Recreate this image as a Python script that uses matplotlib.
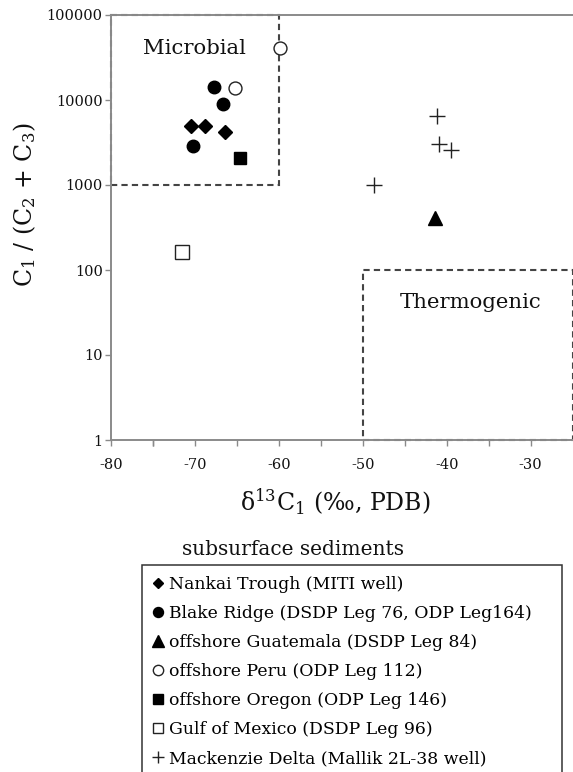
import matplotlib
matplotlib.use('Agg')
import matplotlib.pyplot as plt
from matplotlib.ticker import FixedLocator, FuncFormatter, NullLocator
from matplotlib.patches import Rectangle

plt.rcParams['font.family'] = ['DejaVu Serif']
plt.rcParams['mathtext.fontset'] = 'dejavuserif'
plt.rcParams['mathtext.default'] = 'regular'
plt.rcParams['axes.unicode_minus'] = False

# values: delta13C1 (permil) and C1/(C2+C3)
nankai_x = [-70.5, -68.8, -66.4]
nankai_y = [5000, 5000, 4150]
blake_x = [-67.7, -66.7, -70.2]
blake_y = [14200, 9000, 2900]
guatemala_x = [-41.4]
guatemala_y = [410]
peru_x = [-59.8, -65.2]
peru_y = [41000, 13800]
oregon_x = [-64.6]
oregon_y = [2100]
gulf_x = [-71.5]
gulf_y = [165]
mackenzie_x = [-41.2, -40.9, -39.5, -48.6]
mackenzie_y = [6400, 3000, 2600, 1000]

x_ticks = [-80, -70, -60, -50, -40, -30]
y_ticks = [1, 10, 100, 1000, 10000, 100000]

# genetic fields (x0, x1, y0, y1)
microbial_box = (-80, -60, 1000, 100000)
thermo_box = (-50, -25, 1, 100)

W, H = 573, 772
fig = plt.figure(figsize=(W / 100, H / 100), dpi=100)
ax = fig.add_axes([111 / W, 1 - 440 / H, (572.5 - 111) / W, (440 - 15) / H])

ax.set_yscale('log')
ax.set_xlim(-80, -25)
ax.set_ylim(1, 100000)

spine_col = '#8a8a8a'
for side in ['left', 'bottom', 'top']:
    ax.spines[side].set_color(spine_col)
    ax.spines[side].set_linewidth(1.4)
ax.spines['right'].set_visible(False)

ax.xaxis.set_major_locator(FixedLocator(x_ticks))
ax.xaxis.set_minor_locator(FixedLocator([v + 5 for v in x_ticks[:-1]] + [-75]))
ax.xaxis.set_major_formatter(FuncFormatter(lambda v, p: '%d' % v))
ax.yaxis.set_major_locator(FixedLocator(y_ticks))
ax.yaxis.set_minor_locator(NullLocator())
ax.yaxis.set_major_formatter(FuncFormatter(lambda v, p: '%d' % round(v)))
ax.tick_params(axis='both', which='both', direction='out', length=4, width=1,
               color=spine_col, labelsize=10.5, labelcolor='#111111')
ax.tick_params(axis='x', which='major', pad=9)
ax.tick_params(axis='y', pad=2)

dash = (0, (3, 2))
for bx in [microbial_box, thermo_box]:
    ax.add_patch(Rectangle((bx[0], bx[2]), bx[1] - bx[0], bx[3] - bx[2], fill=False,
                           edgecolor='#444444', linewidth=1.5, linestyle=dash, clip_on=False))

ax.text(-70.0, 40000, 'Microbial', ha='center', va='center', fontsize=15.3, color='#111111')
ax.text(-37.2, 42, 'Thermogenic', ha='center', va='center', fontsize=15.3, color='#111111')

k = 'black'
h1, = ax.plot(nankai_x, nankai_y, ls='none', marker='D', ms=7, mfc=k, mec=k,
              label='Nankai Trough (MITI well)')
h2, = ax.plot(blake_x, blake_y, ls='none', marker='o', ms=9, mfc=k, mec=k,
              label='Blake Ridge (DSDP Leg 76, ODP Leg164)')
h3, = ax.plot(guatemala_x, guatemala_y, ls='none', marker='^', ms=10.5, mfc=k, mec=k,
              label='offshore Guatemala (DSDP Leg 84)')
h4, = ax.plot(peru_x, peru_y, ls='none', marker='o', ms=9.3, mfc='white', mec='#222222', mew=1,
              label='offshore Peru (ODP Leg 112)')
h5, = ax.plot(oregon_x, oregon_y, ls='none', marker='s', ms=9.3, mfc=k, mec=k,
              label='offshore Oregon (ODP Leg 146)')
h6, = ax.plot(gulf_x, gulf_y, ls='none', marker='s', ms=9.8, mfc='white', mec='#222222', mew=1,
              label='Gulf of Mexico (DSDP Leg 96)')
h7, = ax.plot(mackenzie_x, mackenzie_y, ls='none', marker='+', ms=11.5, mec='#222222', mew=1,
              label='Mackenzie Delta (Mallik 2L-38 well)')

ax.set_xlabel(r'$\delta^{13}$C$_1$ (‰, PDB)', fontsize=17, color='#111111')
ax.xaxis.set_label_coords((335 - 111) / 461.5, -(502 - 440) / 425)
ax.xaxis.label.set_va('center')
ax.set_ylabel(r'C$_1$ / (C$_2$ + C$_3$)', fontsize=17, color='#111111')
ax.yaxis.set_label_coords((25 - 111) / 461.5, (440 - 205) / 425)
ax.yaxis.label.set_va('center')

fig.text(293 / W, 1 - 555 / H, 'subsurface sediments', ha='center', va='baseline',
         fontsize=14.5, color='#111111')

# legend box runs off the bottom of the page in the original
leg_top = 1 - 565 / H
leg = ax.legend(handles=[h1, h2, h3, h4, h5, h6, h7], loc='upper left', mode='expand',
                bbox_to_anchor=(142 / W, leg_top - 0.3, (562 - 142) / W, 0.3),
                bbox_transform=fig.transFigure,
                frameon=True, fancybox=False, edgecolor='#333333', framealpha=1,
                fontsize=12.4, handlelength=0.65, handletextpad=0.3, borderaxespad=0,
                borderpad=0.62, labelspacing=0.70, markerscale=0.8)
leg.get_frame().set_linewidth(1.1)

fig.savefig('out.png', dpi=100)
